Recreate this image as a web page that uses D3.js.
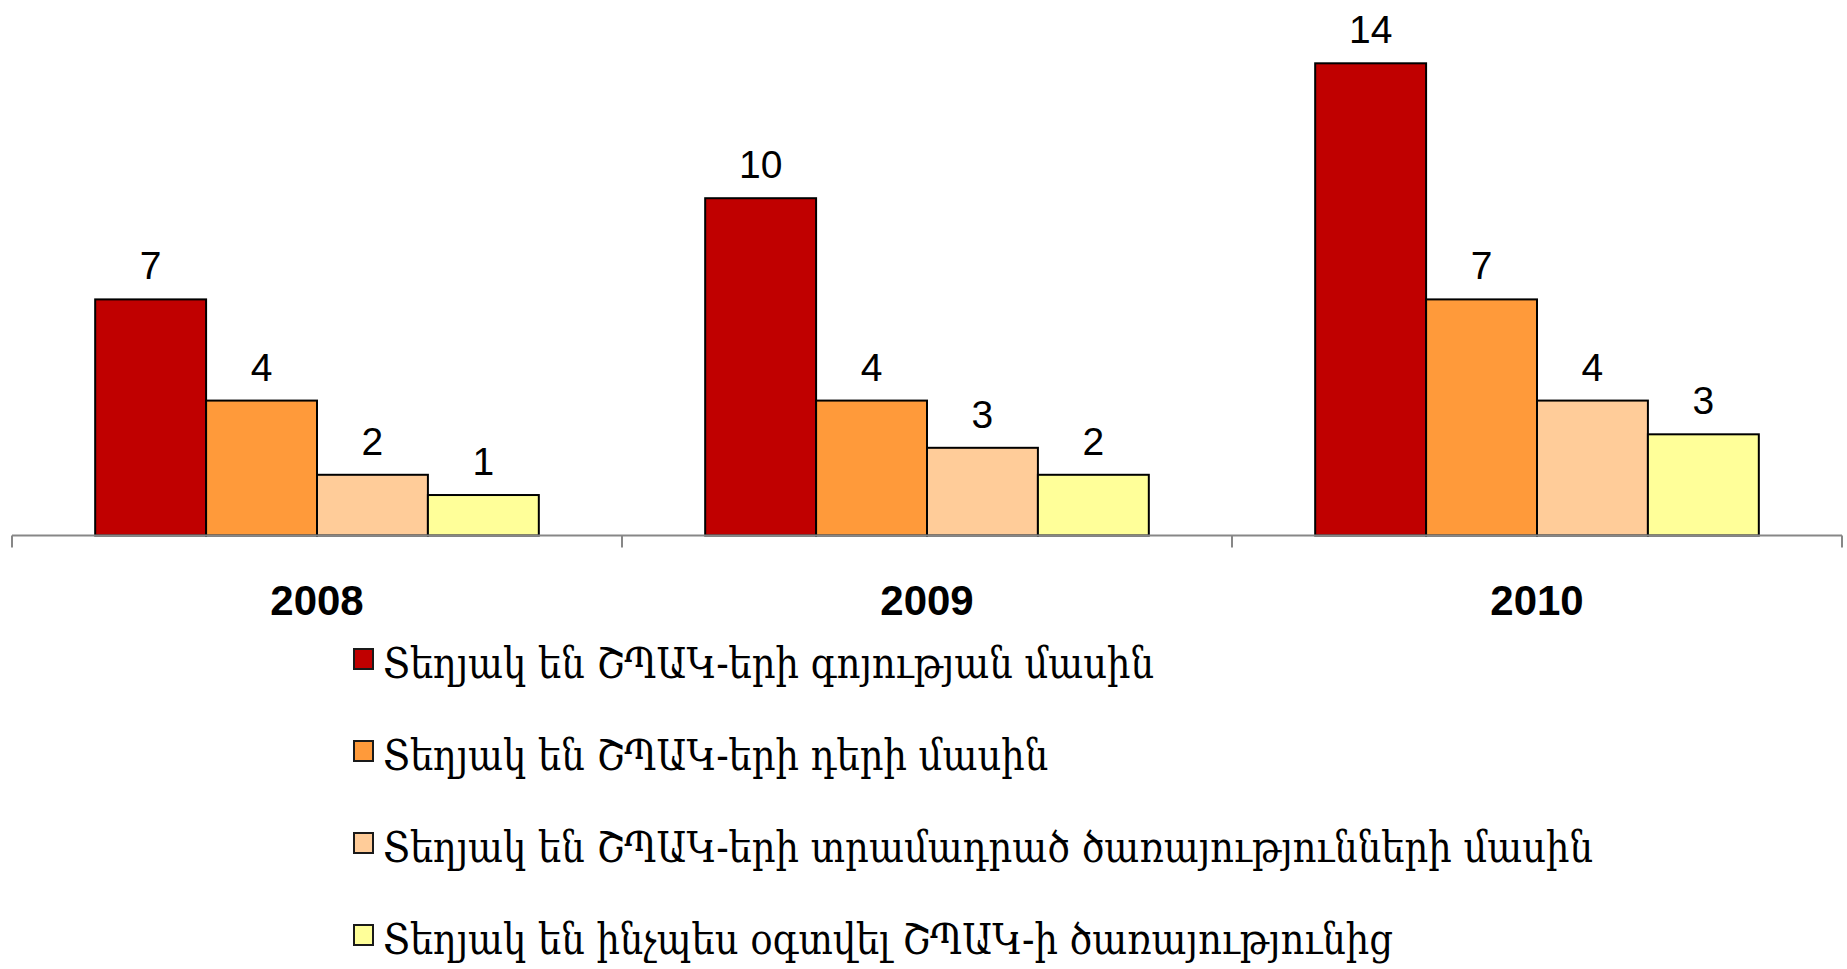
<!DOCTYPE html>
<html>
<head>
<meta charset="utf-8">
<script src="https://cdn.jsdelivr.net/npm/d3@7/dist/d3.min.js"></script>
<style>
  html, body { margin: 0; padding: 0; background: #ffffff; }
  svg { display: block; }
</style>
</head>
<body>
<svg id="chart" width="1847" height="969"></svg>
<script>
// ---- data ----
const years = ["2008", "2009", "2010"];
const seriesNames = [
  "Տեղյակ են ՇՊԱԿ-երի գոյության մասին",
  "Տեղյակ են ՇՊԱԿ-երի դերի մասին",
  "Տեղյակ են ՇՊԱԿ-երի տրամադրած ծառայությունների մասին",
  "Տեղյակ են ինչպես օգտվել ՇՊԱԿ-ի ծառայությունից"
];
const values2008 = [7, 4, 1.8, 1.2];
const values2009 = [10, 4, 2.6, 1.8];
const values2010 = [14, 7, 4, 3];
const seriesColors = ["#C00000", "#FF9A3A", "#FFCC99", "#FFFF99"];

const valuesByYear = [values2008, values2009, values2010];
const rows = [];
years.forEach((y, yi) => {
  valuesByYear[yi].forEach((v, si) => rows.push({ year: y, s: si, value: v }));
});

// ---- layout ----
const svg = d3.select("#chart");
const axisY = 535.5;
const x = d3.scaleBand().domain(years).range([12, 1842]).paddingInner(0).paddingOuter(0);
const xs = d3.scaleBand().domain(d3.range(seriesNames.length))
  .range([0, x.bandwidth()]).paddingInner(0).paddingOuter(0.75);
const y = d3.scaleLinear().domain([0, 14]).range([axisY, 63.3]);

// bars
svg.append("g").selectAll("rect").data(rows).join("rect")
  .attr("x", d => x(d.year) + xs(d.s))
  .attr("y", d => y(d.value))
  .attr("width", xs.bandwidth())
  .attr("height", d => axisY - y(d.value))
  .attr("fill", d => seriesColors[d.s])
  .attr("stroke", "#000")
  .attr("stroke-width", 2);

// data labels
const fmt = d3.format(".0f");
svg.append("g").selectAll("text").data(rows).join("text")
  .attr("x", d => x(d.year) + xs(d.s) + xs.bandwidth() / 2)
  .attr("y", d => y(d.value) - 20)
  .attr("text-anchor", "middle")
  .attr("font-family", "Arial, 'Liberation Sans', sans-serif")
  .attr("font-size", 39)
  .attr("fill", "#000")
  .text(d => fmt(d.value));

// axis line + boundary ticks
const axisG = svg.append("g");
const bounds = years.map(yv => x(yv)).concat([x(years[years.length - 1]) + x.bandwidth()]);
axisG.append("line")
  .attr("x1", bounds[0]).attr("x2", bounds[bounds.length - 1])
  .attr("y1", axisY).attr("y2", axisY)
  .attr("stroke", "#878787").attr("stroke-width", 2);
axisG.selectAll("line.tick").data(bounds).join("line")
  .attr("class", "tick")
  .attr("x1", d => d).attr("x2", d => d)
  .attr("y1", axisY).attr("y2", axisY + 12)
  .attr("stroke", "#878787").attr("stroke-width", 2);

// category labels via d3 axis
const labAxis = svg.append("g").attr("transform", `translate(0,${axisY})`)
  .call(d3.axisBottom(x).tickSize(0));
labAxis.select(".domain").remove();
labAxis.selectAll("text")
  .attr("y", 79.5).attr("dy", 0)
  .attr("font-family", "Arial, 'Liberation Sans', sans-serif")
  .attr("font-size", 42)
  .attr("font-weight", "bold")
  .attr("fill", "#000");

// legend
const legend = svg.append("g");
const legendRowY = d3.scaleLinear().domain([0, 1]).range([678, 770]);
const leg = legend.selectAll("g").data(seriesNames).join("g")
  .attr("transform", (d, i) => `translate(0,${legendRowY(i)})`);
leg.append("rect")
  .attr("x", 354).attr("y", -29).attr("width", 19).attr("height", 20)
  .attr("fill", (d, i) => seriesColors[i])
  .attr("stroke", "#1a1a1a").attr("stroke-width", 2);
const legTexts = leg.append("text")
  .attr("x", 383).attr("y", 0)
  .attr("font-family", "'DejaVu Serif Condensed', 'DejaVu Serif', serif")
  .attr("font-size", 42)
  .attr("fill", "#000")
  .text(d => d);
// fit the widest legend entry to the reference width, same factor for all
const natural = legTexts.nodes().map(n => n.getComputedTextLength());
const factor = 1210 / natural[2];
legTexts.each(function(d, i) {
  d3.select(this).attr("textLength", natural[i] * factor).attr("lengthAdjust", "spacingAndGlyphs");
});
</script>
</body>
</html>
